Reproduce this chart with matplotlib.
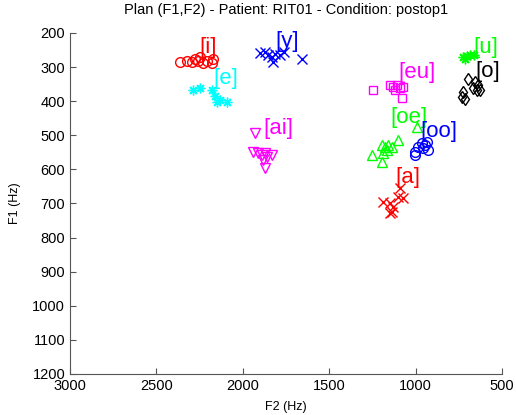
import numpy as np
import matplotlib.pyplot as plt

plt.rcParams['font.family'] = ['Liberation Sans', 'DejaVu Sans']

# formant values per vowel (F2, F1) in Hz
vowels = ['i', 'e', 'y', 'ai', 'eu', 'u', 'o', 'oe', 'oo', 'a']

f2_i = [2363, 2323, 2294, 2277, 2259, 2248, 2230, 2207, 2178, 2172]
f1_i = [285, 282, 285, 276, 282, 270, 288, 282, 288, 276]

f2_e = [2288, 2248, 2178, 2161, 2132, 2091, 2149]
f1_e = [367, 361, 367, 385, 396, 402, 402]

f2_y = [1900, 1872, 1854, 1831, 1814, 1785, 1762, 1825, 1657]
f1_y = [259, 256, 265, 270, 262, 265, 256, 285, 276]

f2_ai = [1929, 1941, 1912, 1889, 1872, 1860, 1831, 1883, 1872]
f1_ai = [493, 549, 552, 558, 552, 564, 558, 572, 596]

f2_eu = [1247, 1148, 1131, 1108, 1090, 1073, 1119, 1079]
f1_eu = [367, 353, 358, 353, 361, 358, 367, 391]

f2_u = [726, 703, 685, 662, 714]
f1_u = [270, 267, 265, 265, 276]

f2_o = [697, 656, 639, 668, 645, 627, 726, 731, 714]
f1_o = [335, 344, 353, 361, 367, 367, 373, 388, 394]

f2_oe = [992, 1252, 1194, 1177, 1160, 1137, 1102, 1189, 1194, 1166]
f1_oe = [476, 558, 528, 534, 528, 534, 514, 552, 578, 543]

f2_oo = [1003, 986, 963, 934, 928, 1003, 957, 946]
f1_oo = [549, 534, 523, 520, 543, 558, 537, 528]

f2_a = [1090, 1073, 1189, 1148, 1131, 1137, 1148, 1102]
f1_a = [655, 684, 696, 699, 710, 725, 728, 681]

# label anchor (F2, F1)
lab_f2 = [2253, 2172, 1814, 1883, 1102, 668, 656, 1148, 975, 1119]
lab_f1 = [244, 332, 226, 479, 317, 244, 314, 449, 490, 625]

star = (8, 2, 0)  # matlab style asterisk
data = {
    'i': (f2_i, f1_i, 'o', 'r'),
    'e': (f2_e, f1_e, star, 'c'),
    'y': (f2_y, f1_y, 'x', 'b'),
    'ai': (f2_ai, f1_ai, 'v', 'm'),
    'eu': (f2_eu, f1_eu, 's', 'm'),
    'u': (f2_u, f1_u, star, 'g'),
    'o': (f2_o, f1_o, 'd', 'k'),
    'oe': (f2_oe, f1_oe, '^', 'g'),
    'oo': (f2_oo, f1_oo, 'o', 'b'),
    'a': (f2_a, f1_a, 'x', 'r'),
}
colors = {'r': '#ff0000', 'c': '#00ffff', 'b': '#0000ff', 'm': '#ff00ff',
          'g': '#00ff00', 'k': '#000000'}

fig = plt.figure(figsize=(5.16, 4.15), dpi=100)
ax = fig.add_axes([0.1357, 0.0988, 0.8372, 0.8217])

for k, v in enumerate(vowels):
    x, y, mk, c = data[v]
    ms = 6 if mk in ('s', 'd') else 7
    ax.plot(x, y, linestyle='none', marker=mk, color=colors[c],
            mfc='none', ms=ms, mew=1.0)
    ax.text(lab_f2[k], lab_f1[k], '[' + v + ']', color=colors[c],
            fontsize=16, ha='left', va='center')

ax.set_xlim(3000, 500)
ax.set_ylim(1200, 200)
ax.set_xticks(np.arange(3000, 499, -500))
ax.set_yticks(np.arange(200, 1201, 100))
for s in ['top', 'right']:
    ax.spines[s].set_visible(False)
for s in ['left', 'bottom']:
    ax.spines[s].set_color('#555555')
ax.tick_params(direction='in', length=4, color='#555555', labelsize=10.5)
ax.set_xlabel('F2 (Hz)', fontsize=9, labelpad=6)
ax.set_ylabel('F1 (Hz)', fontsize=9, labelpad=8)
ax.set_title('Plan (F1,F2) - Patient: RIT01 - Condition: postop1',
             fontsize=10.5, pad=14)

fig.savefig('out.png')
